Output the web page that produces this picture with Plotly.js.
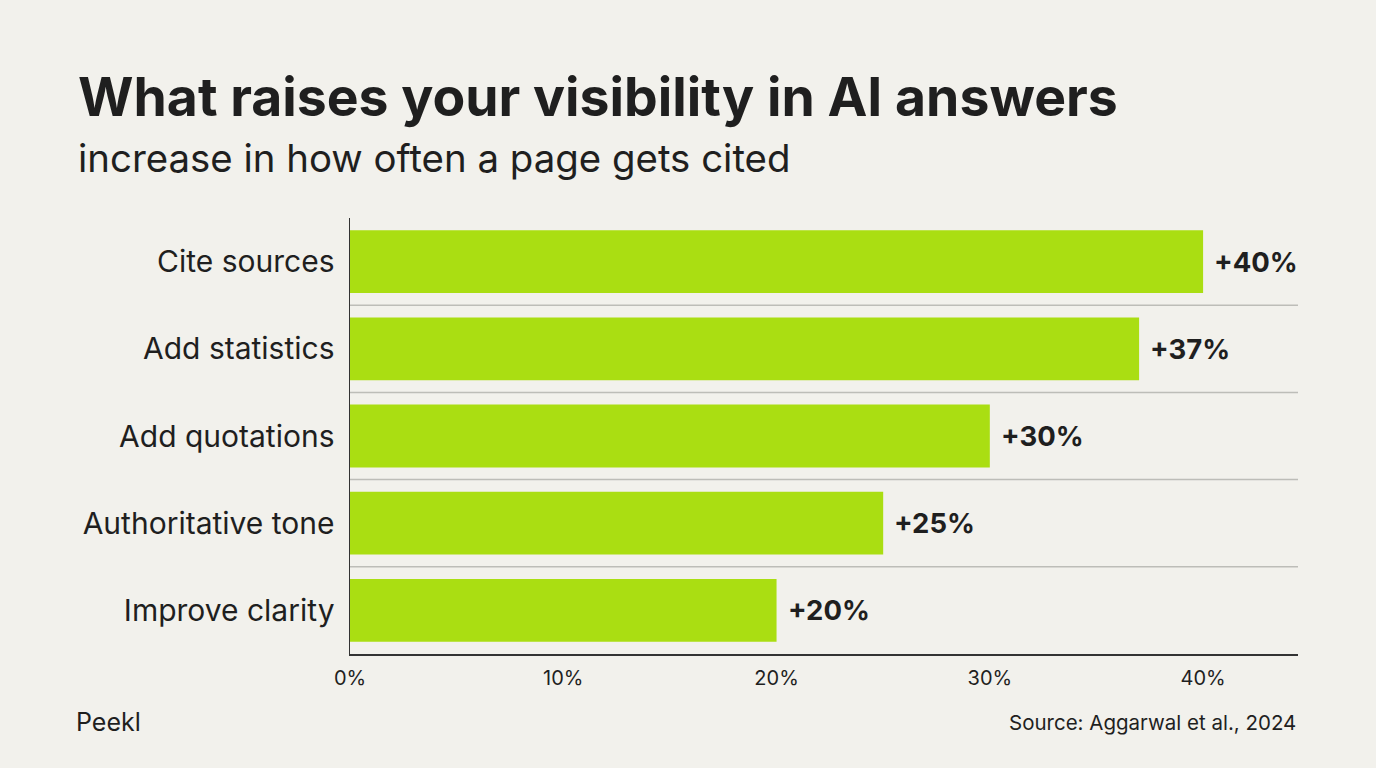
<!DOCTYPE html>
<html>
<head>
<meta charset="utf-8">
<script src="https://cdn.plot.ly/plotly-3.0.1.min.js"></script>
<style>
  html, body { margin: 0; padding: 0; background: #f2f1ec; }
  #chart { width: 1376px; height: 768px; }
</style>
</head>
<body>
<div id="chart"></div>
<script>
// data ---------------------------------------------------------------
const tactics = ["Cite sources", "Add statistics", "Add quotations", "Authoritative tone", "Improve clarity"];
const lift = [40, 37, 30, 25, 20];   // % increase in citations
const xTicks = [0, 10, 20, 30, 40];
const xTickLabels = ["0%", "10%", "20%", "30%", "40%"];

const barColor = "#aade12";
const ink = "#1f1f1f";
const font = "Inter, 'Noto Sans', sans-serif";

// plot area in px, used to place the header / footer text
const plotLeft = 350, plotRight = 1298, plotTop = 218, plotBottom = 654;
const px = x => (x - plotLeft) / (plotRight - plotLeft);
const py = y => (plotBottom - y) / (plotBottom - plotTop);

// value labels just past the end of each bar
const valueLabels = tactics.map((t, i) => ({
    x: lift[i], y: t, xref: "x", yref: "y",
    text: "+" + lift[i] + "%", showarrow: false,
    xanchor: "left", yanchor: "middle", xshift: 9,
    font: { family: font, size: 27.5, color: ink, weight: 700 }
}));

// thin separators between rows
const separators = tactics.slice(1).map((t, i) => ({
    type: "line", xref: "paper", yref: "y",
    x0: 0, x1: 1, y0: i + 0.5, y1: i + 0.5,
    line: { color: "#bdbdb8", width: 1.5 }, layer: "below"
}));

const data = [{
    type: "bar", orientation: "h",
    x: lift, y: tactics,
    marker: { color: barColor },
    width: 0.72,
    hoverinfo: "skip"
}];

const layout = {
    width: 1376, height: 768,
    paper_bgcolor: "#f2f1ec", plot_bgcolor: "#f2f1ec",
    margin: { l: plotLeft, r: 1376 - plotRight, t: plotTop, b: 768 - plotBottom },
    showlegend: false,
    font: { family: font, color: ink },
    xaxis: {
        range: [0, 44.45], tickmode: "array", tickvals: xTicks, ticktext: xTickLabels,
        showgrid: false, zeroline: false,
        showline: true, linecolor: "#333", linewidth: 1.5,
        ticks: "", ticklabelstandoff: 5,
        tickfont: { family: font, size: 20, color: ink }
    },
    yaxis: {
        type: "category", range: [4.5, -0.5],
        showgrid: false, zeroline: false,
        showline: true, linecolor: "#333", linewidth: 1.5,
        ticks: "", ticklabelstandoff: 8,
        tickfont: { family: font, size: 30, color: ink }
    },
    shapes: separators,
    annotations: valueLabels.concat([
        { text: "What raises your visibility in AI answers", xref: "paper", yref: "paper",
          x: px(76), y: py(97), xanchor: "left", yanchor: "middle", showarrow: false,
          font: { family: font, size: 53.5, color: ink, weight: 700 } },
        { text: "increase in how often a page gets cited", xref: "paper", yref: "paper",
          x: px(76), y: py(158), xanchor: "left", yanchor: "middle", showarrow: false,
          font: { family: font, size: 38.4, color: ink } },
        { text: "Peekl", xref: "paper", yref: "paper",
          x: px(74), y: py(722), xanchor: "left", yanchor: "middle", showarrow: false,
          font: { family: font, size: 25, color: ink } },
        { text: "Source: Aggarwal et al., 2024", xref: "paper", yref: "paper",
          x: 1, y: py(722), xanchor: "right", yanchor: "middle", showarrow: false,
          font: { family: font, size: 20.5, color: ink } }
    ])
};

Plotly.newPlot("chart", data, layout, { displayModeBar: false, staticPlot: true });
</script>
</body>
</html>
